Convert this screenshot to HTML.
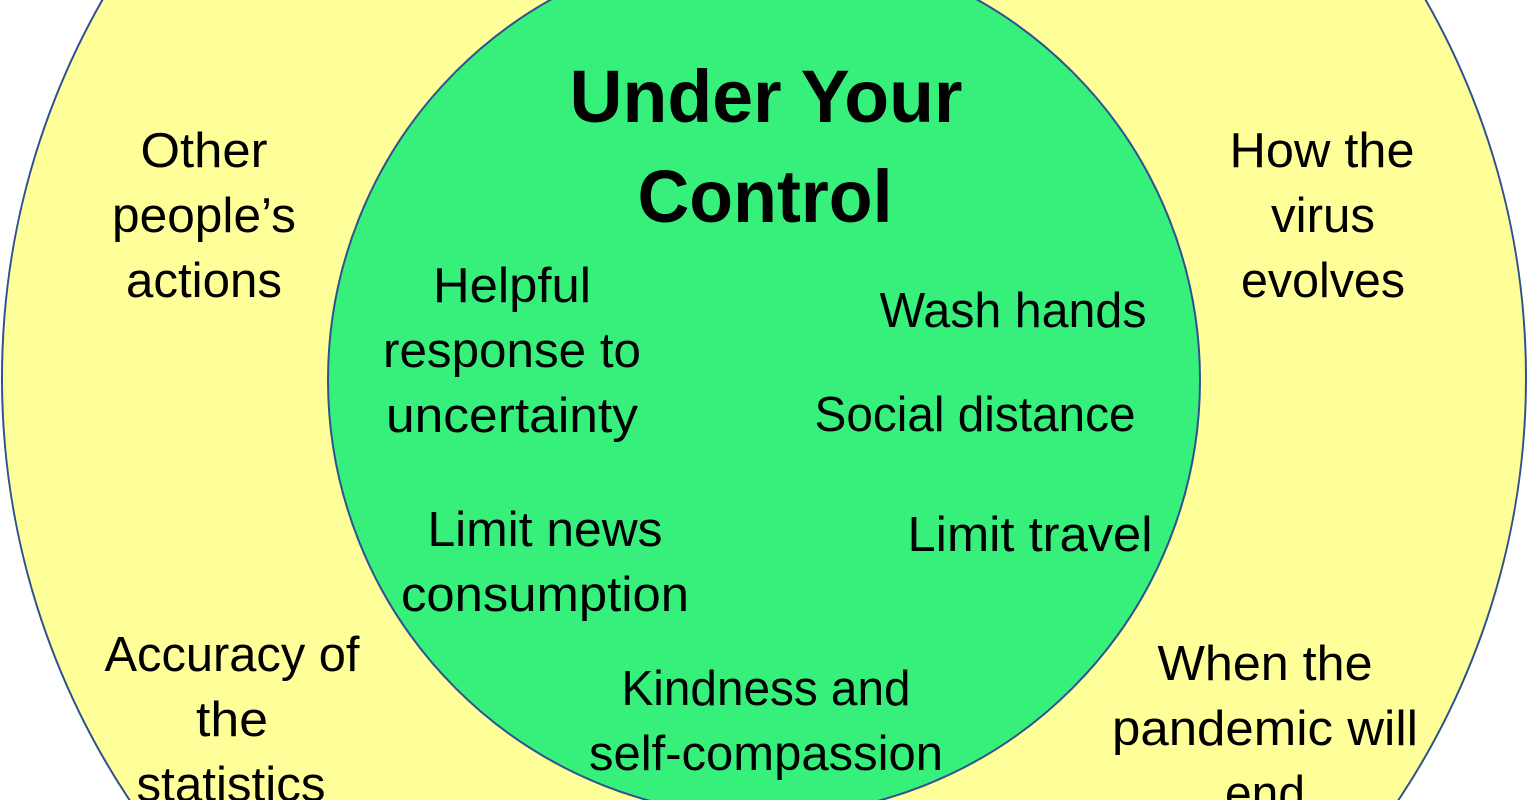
<!DOCTYPE html>
<html><head><meta charset="utf-8"><style>html,body{margin:0;padding:0;background:#fff;overflow:hidden}svg{display:block}</style></head>
<body>
<svg width="1528" height="800" viewBox="0 0 1528 800" xmlns="http://www.w3.org/2000/svg">
<circle cx="764" cy="378" r="762" fill="#ffff99" stroke="#2f528f" stroke-width="2"/>
<circle cx="764" cy="380" r="436" fill="#37f07c" stroke="#2f528f" stroke-width="2"/>
<g font-family="Liberation Sans, sans-serif" fill="#000" text-anchor="middle" lengthAdjust="spacingAndGlyphs">
<g font-weight="bold" font-size="74">
<text x="766" y="122" textLength="393" lengthAdjust="spacingAndGlyphs">Under Your</text>
<text x="765" y="222" textLength="255" lengthAdjust="spacingAndGlyphs">Control</text>
</g>
<g font-size="49">
<text x="204" y="167" textLength="127" lengthAdjust="spacingAndGlyphs">Other</text>
<text x="204" y="232" textLength="184" lengthAdjust="spacingAndGlyphs">people’s</text>
<text x="204" y="297" textLength="156" lengthAdjust="spacingAndGlyphs">actions</text>
<text x="1322" y="167" textLength="185" lengthAdjust="spacingAndGlyphs">How the</text>
<text x="1323" y="232" textLength="104" lengthAdjust="spacingAndGlyphs">virus</text>
<text x="1323" y="297" textLength="164" lengthAdjust="spacingAndGlyphs">evolves</text>
<text x="512" y="302" textLength="158" lengthAdjust="spacingAndGlyphs">Helpful</text>
<text x="512" y="367" textLength="258" lengthAdjust="spacingAndGlyphs">response to</text>
<text x="512" y="432" textLength="252" lengthAdjust="spacingAndGlyphs">uncertainty</text>
<text x="1013" y="327" textLength="267" lengthAdjust="spacingAndGlyphs">Wash hands</text>
<text x="975" y="431" textLength="321" lengthAdjust="spacingAndGlyphs">Social distance</text>
<text x="545" y="546" textLength="235" lengthAdjust="spacingAndGlyphs">Limit news</text>
<text x="545" y="611" textLength="288" lengthAdjust="spacingAndGlyphs">consumption</text>
<text x="1030" y="551" textLength="245" lengthAdjust="spacingAndGlyphs">Limit travel</text>
<text x="766" y="705" textLength="289" lengthAdjust="spacingAndGlyphs">Kindness and</text>
<text x="766" y="770" textLength="354" lengthAdjust="spacingAndGlyphs">self-compassion</text>
<text x="232" y="671" textLength="255" lengthAdjust="spacingAndGlyphs">Accuracy of</text>
<text x="232" y="736" textLength="72" lengthAdjust="spacingAndGlyphs">the</text>
<text x="231" y="801" textLength="189" lengthAdjust="spacingAndGlyphs">statistics</text>
<text x="1265" y="680" textLength="215" lengthAdjust="spacingAndGlyphs">When the</text>
<text x="1265" y="745" textLength="306" lengthAdjust="spacingAndGlyphs">pandemic will</text>
<text x="1265" y="810" textLength="80" lengthAdjust="spacingAndGlyphs">end</text>
</g>
</g>
</svg>
</body></html>
